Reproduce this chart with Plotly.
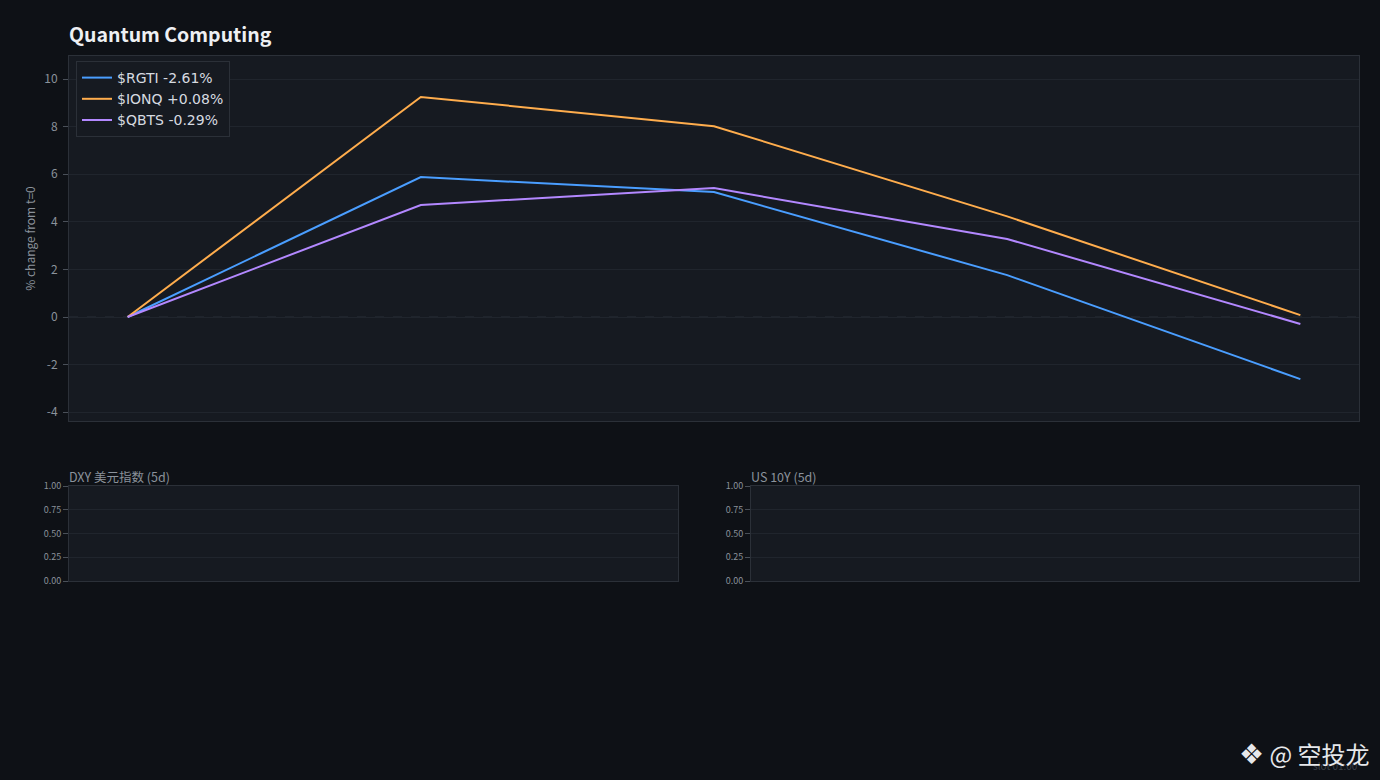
import plotly.graph_objects as go

# main panel: % change from t=0 across 5 samples
steps = [0, 1, 2, 3, 4]
rgti = [0.0, 5.88, 5.25, 1.76, -2.61]
ionq = [0.0, 9.25, 8.02, 4.23, 0.08]
qbts = [0.0, 4.71, 5.42, 3.28, -0.29]
series_names = ["$RGTI -2.61%", "$IONQ +0.08%", "$QBTS -0.29%"]
series_colors = ["#4a9eff", "#ffad4d", "#b388ff"]

main_yticks = [-4, -2, 0, 2, 4, 6, 8, 10]
small_yticks = [0.0, 0.25, 0.5, 0.75, 1.0]
small_titles = ["DXY 美元指数 (5d)", "US 10Y (5d)"]

W, H = 1380, 780
FONT = "Noto Sans CJK SC"
PAPER = "#0e1116"
PLOT = "#161a21"
GRID = "#20252d"
LINE = "#2b3038"
TICK = "#8b929b"


def px_x(a, b):
    return [a / W, b / W]


def px_y(top, bottom):
    return [1 - bottom / H, 1 - top / H]


fig = go.Figure()
for name, vals, color in zip(series_names, [rgti, ionq, qbts], series_colors):
    fig.add_scatter(x=steps, y=vals, mode="lines", name=name,
                    line={"color": color, "width": 2}, xaxis="x", yaxis="y")

# empty placeholders so the small panels get drawn
fig.add_scatter(x=[], y=[], xaxis="x2", yaxis="y2", showlegend=False)
fig.add_scatter(x=[], y=[], xaxis="x3", yaxis="y3", showlegend=False)

axis_common = dict(showline=True, mirror=True, linecolor=LINE, linewidth=1,
                   zeroline=False, automargin=False)
small_y = dict(range=[0, 1], tickvals=small_yticks, tickformat=".2f",
               showgrid=True, gridcolor=GRID, ticks="outside", ticklen=5,
               tickcolor="#4a5059", tickfont={"size": 9, "color": TICK},
               domain=px_y(486, 581))

fig.update_layout(
    width=W, height=H,
    paper_bgcolor=PAPER, plot_bgcolor=PLOT,
    margin={"l": 0, "r": 0, "t": 0, "b": 0, "autoexpand": False},
    font={"family": FONT, "color": TICK, "size": 12},
    showlegend=True,
    legend={"x": 76 / W, "y": 1 - 61 / H, "xanchor": "left", "yanchor": "top",
            "bgcolor": PLOT, "bordercolor": LINE, "borderwidth": 1,
            "font": {"family": "DejaVu Sans", "size": 14, "color": "#d6dae0"},
            "tracegroupgap": 0},
    xaxis=dict(domain=px_x(69, 1359), range=[-0.2, 4.2], showgrid=False,
               showticklabels=False, ticks="", anchor="y", **axis_common),
    yaxis=dict(domain=px_y(56, 421), range=[-4.37, 10.97], tickvals=main_yticks,
               ticktext=[str(v) for v in main_yticks],
               showgrid=True, gridcolor=GRID, ticks="outside", ticklen=5,
               tickcolor="#4a5059", tickfont={"size": 12, "color": TICK},
               ticklabelstandoff=3,
               title={"text": "% change from t=0", "font": {"size": 12, "color": TICK},
                      "standoff": 6},
               anchor="x", **axis_common),
    xaxis2=dict(domain=px_x(69, 678), range=[0, 1], showgrid=False,
                showticklabels=False, anchor="y2", **axis_common),
    yaxis2=dict(anchor="x2", **small_y, **axis_common),
    xaxis3=dict(domain=px_x(751, 1359), range=[0, 1], showgrid=False,
                showticklabels=False, anchor="y3", **axis_common),
    yaxis3=dict(anchor="x3", **small_y, **axis_common),
)

# dashed baseline at zero
fig.add_shape(type="line", xref="x domain", yref="y", x0=0, x1=1, y0=0, y1=0,
              line={"color": "#2a3038", "width": 1, "dash": "dash"}, layer="below")

fig.add_annotation(text="<b>Quantum Computing</b>", xref="paper", yref="paper",
                   x=67 / W, y=1 - 34 / H, xanchor="left", yanchor="middle",
                   showarrow=False, font={"size": 19.5, "color": "#eef0f3"})

for title, left in zip(small_titles, [67, 749]):
    fig.add_annotation(text=title, xref="paper", yref="paper",
                       x=left / W, y=1 - 476 / H, xanchor="left", yanchor="middle",
                       showarrow=False, font={"size": 12.5, "color": TICK})

# watermark
fig.add_annotation(text="slot 01:00", xref="paper", yref="paper",
                   x=1360 / W, y=1 - 765 / H, xanchor="right", yanchor="middle",
                   showarrow=False, font={"size": 10, "color": "#3a3f47"})
fig.add_annotation(text="<span style='font-family:DejaVu Sans;font-size:28px'>❖</span> @ 空投龙",
                   xref="paper", yref="paper",
                   x=1372 / W, y=1 - 753 / H, xanchor="right", yanchor="middle",
                   showarrow=False, font={"size": 24, "color": "#e6e8eb"})

fig.write_html("out.html", config={"displayModeBar": False},
               post_script="document.body.style.margin='0px';")
